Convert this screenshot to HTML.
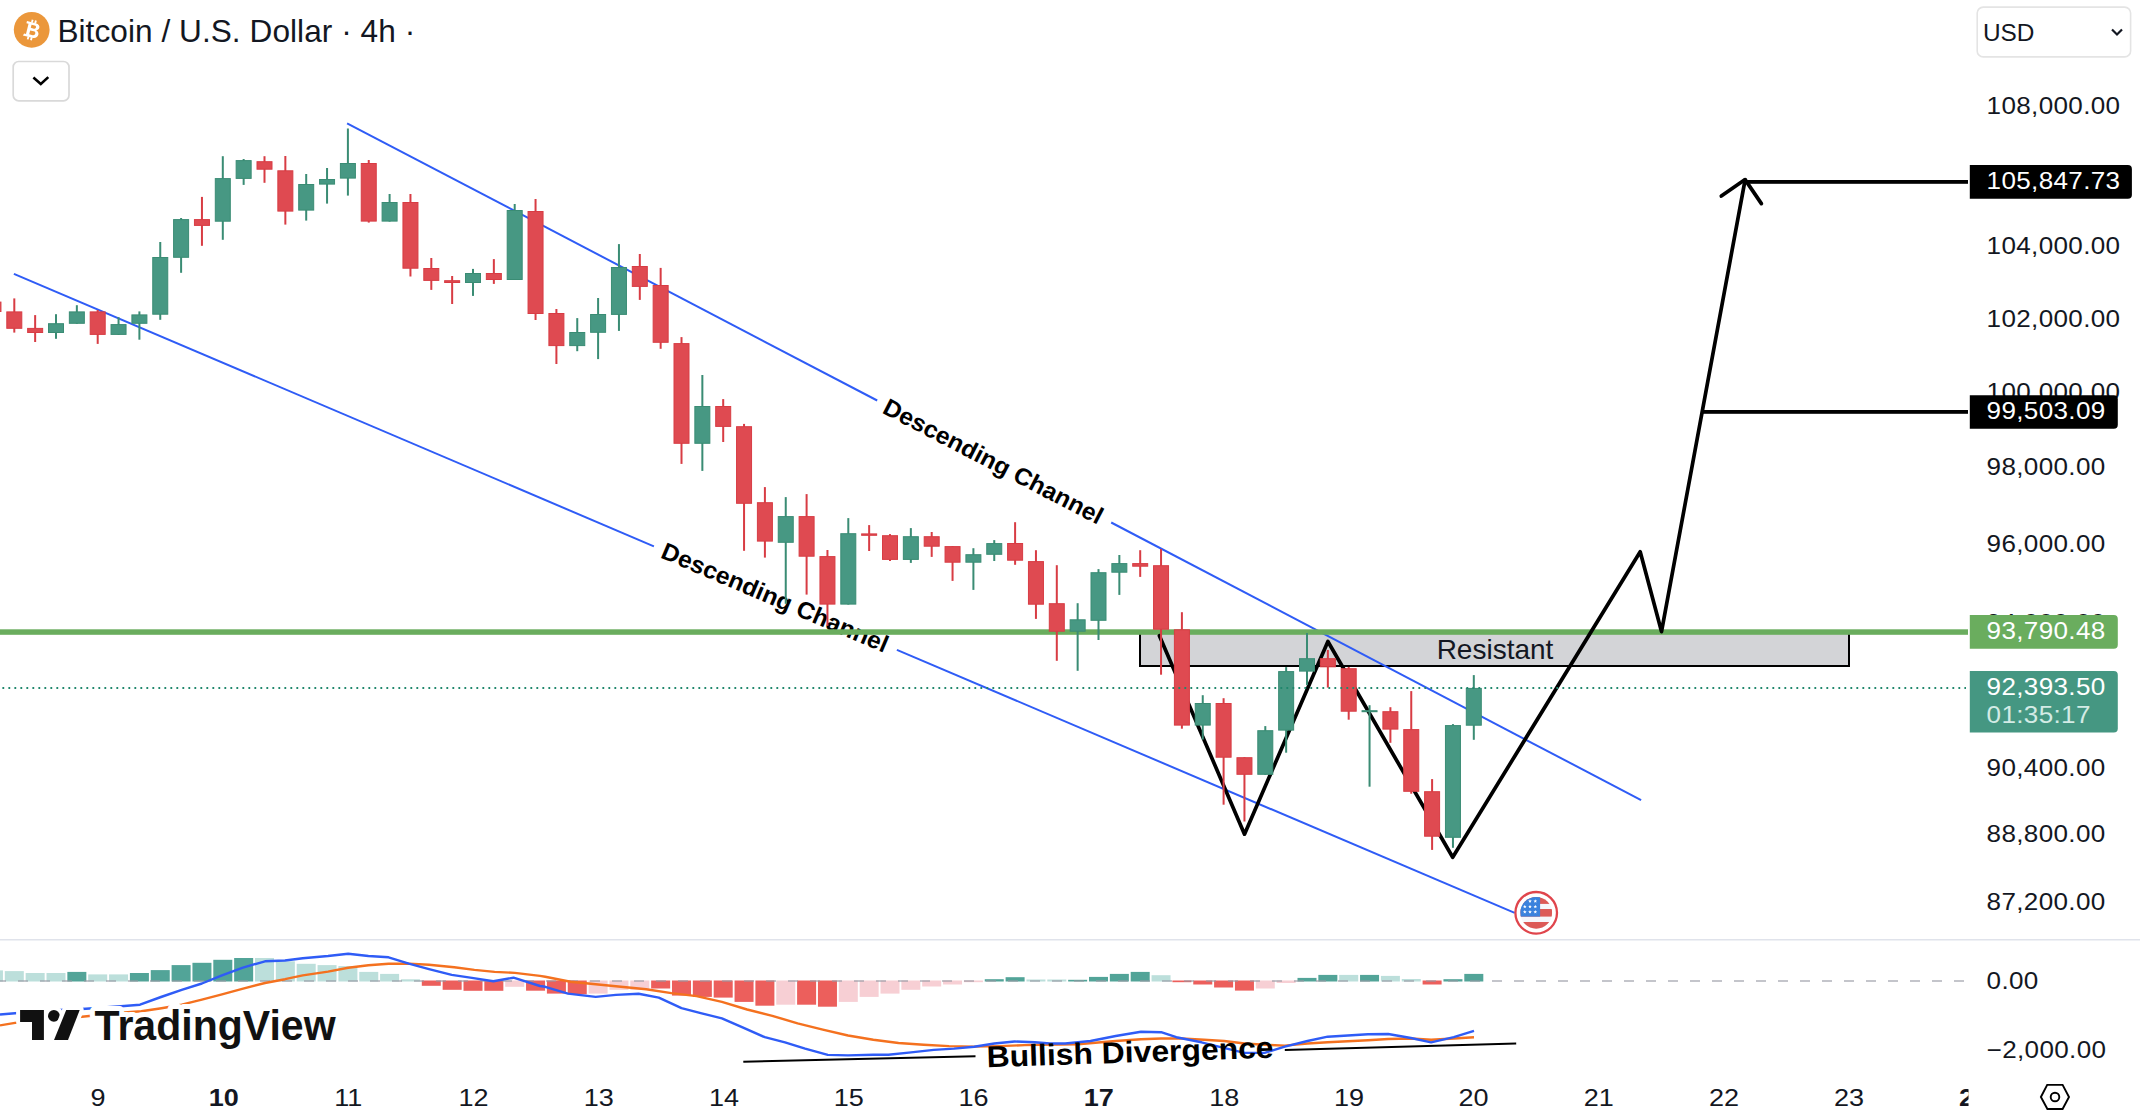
<!DOCTYPE html>
<html><head><meta charset="utf-8"><title>Bitcoin / U.S. Dollar 4h chart</title>
<style>
html,body{margin:0;padding:0;background:#fff;}
body{width:2140px;height:1118px;overflow:hidden;position:relative;}
svg{position:absolute;left:0;top:0;display:block;}
</style></head><body>
<svg width="2140" height="1118" viewBox="0 0 2140 1118">
<rect width="2140" height="1118" fill="#fff"/>
<rect x="1140" y="632" width="709" height="34" fill="#d3d4d7" stroke="#000" stroke-width="2"/>
<line x1="347.1" y1="123.3" x2="877.2" y2="400.5" stroke="#2f5cf6" stroke-width="2"/>
<line x1="1111.2" y1="522.5" x2="1641.1" y2="800.1" stroke="#2f5cf6" stroke-width="2"/>
<line x1="13.9" y1="273.8" x2="653.9" y2="546.3" stroke="#2f5cf6" stroke-width="2"/>
<line x1="896.9" y1="649.8" x2="1514.7" y2="912.9" stroke="#2f5cf6" stroke-width="2"/>
<text transform="translate(881.2 412.6) rotate(27.4)" style="font:bold 24px 'Liberation Sans', Arial, sans-serif" fill="#000" textLength="244" lengthAdjust="spacingAndGlyphs">Descending Channel</text>
<text transform="translate(659.5 557.3) rotate(23.06)" style="font:bold 24px 'Liberation Sans', Arial, sans-serif" fill="#000" textLength="244" lengthAdjust="spacingAndGlyphs">Descending Channel</text>
<text x="1495" y="659.2" text-anchor="middle" style="font:28px 'Liberation Sans', Arial, sans-serif" fill="#131722">Resistant</text>
<rect x="0" y="629.3" width="1968" height="5.5" fill="#6aad5e"/>
<polyline points="1159.4,635.7 1244.5,834.2 1327.9,641.5 1452.7,857.3 1640.2,551.8 1661.5,631.6 1745.1,179.9" fill="none" stroke="#000" stroke-width="3.7" stroke-linejoin="round" stroke-linecap="round"/>
<polyline points="1721.3,196.1 1745.1,179.6 1761.4,203.6" fill="none" stroke="#000" stroke-width="3.7" stroke-linejoin="round" stroke-linecap="round"/>
<rect x="1745" y="180" width="223" height="3.8" fill="#000"/>
<rect x="1702" y="410" width="266" height="3.8" fill="#000"/>
<rect x="-7.55" y="301.6" width="2" height="10.4" fill="#d83c44"/>
<rect x="-14.05" y="302.1" width="15" height="9.4" fill="#df4a51" stroke="#d83c44" stroke-width="1"/>
<rect x="13.3" y="298.4" width="2" height="34.2" fill="#d83c44"/>
<rect x="6.8" y="311.9" width="15" height="16.4" fill="#df4a51" stroke="#d83c44" stroke-width="1"/>
<rect x="34.15" y="315.1" width="2" height="26.9" fill="#d83c44"/>
<rect x="27.65" y="328.4" width="15" height="4.1" fill="#df4a51" stroke="#d83c44" stroke-width="1"/>
<rect x="55" y="314.2" width="2" height="24.6" fill="#3a8c74"/>
<rect x="48.5" y="323.7" width="15" height="8.8" fill="#479883" stroke="#3a8c74" stroke-width="1"/>
<rect x="75.85" y="305.2" width="2" height="18.6" fill="#3a8c74"/>
<rect x="69.35" y="311.9" width="15" height="11.4" fill="#479883" stroke="#3a8c74" stroke-width="1"/>
<rect x="96.7" y="310" width="2" height="33.9" fill="#d83c44"/>
<rect x="90.2" y="311.9" width="15" height="22.5" fill="#df4a51" stroke="#d83c44" stroke-width="1"/>
<rect x="117.55" y="317.2" width="2" height="17.7" fill="#3a8c74"/>
<rect x="111.05" y="324.6" width="15" height="9.8" fill="#479883" stroke="#3a8c74" stroke-width="1"/>
<rect x="138.4" y="311.4" width="2" height="28.3" fill="#3a8c74"/>
<rect x="131.9" y="314.9" width="15" height="8.4" fill="#479883" stroke="#3a8c74" stroke-width="1"/>
<rect x="159.25" y="242" width="2" height="77.8" fill="#3a8c74"/>
<rect x="152.75" y="257.5" width="15" height="56.7" fill="#479883" stroke="#3a8c74" stroke-width="1"/>
<rect x="180.1" y="218" width="2" height="54.8" fill="#3a8c74"/>
<rect x="173.6" y="219.6" width="15" height="37.7" fill="#479883" stroke="#3a8c74" stroke-width="1"/>
<rect x="200.95" y="196.9" width="2" height="48.9" fill="#d83c44"/>
<rect x="194.45" y="219.6" width="15" height="5.8" fill="#df4a51" stroke="#d83c44" stroke-width="1"/>
<rect x="221.8" y="156.2" width="2" height="83.6" fill="#3a8c74"/>
<rect x="215.3" y="178.6" width="15" height="42.6" fill="#479883" stroke="#3a8c74" stroke-width="1"/>
<rect x="242.65" y="159" width="2" height="25.9" fill="#3a8c74"/>
<rect x="236.15" y="160.6" width="15" height="17.8" fill="#479883" stroke="#3a8c74" stroke-width="1"/>
<rect x="263.5" y="156.2" width="2" height="26.6" fill="#d83c44"/>
<rect x="257" y="161.7" width="15" height="7.5" fill="#df4a51" stroke="#d83c44" stroke-width="1"/>
<rect x="284.35" y="156" width="2" height="68.6" fill="#d83c44"/>
<rect x="277.85" y="170.8" width="15" height="40.3" fill="#df4a51" stroke="#d83c44" stroke-width="1"/>
<rect x="305.2" y="174" width="2" height="46.6" fill="#3a8c74"/>
<rect x="298.7" y="184.5" width="15" height="25.6" fill="#479883" stroke="#3a8c74" stroke-width="1"/>
<rect x="326.05" y="168" width="2" height="35.6" fill="#3a8c74"/>
<rect x="319.55" y="179.5" width="15" height="4.6" fill="#479883" stroke="#3a8c74" stroke-width="1"/>
<rect x="346.9" y="128.5" width="2" height="67.1" fill="#3a8c74"/>
<rect x="340.4" y="163.5" width="15" height="14.6" fill="#479883" stroke="#3a8c74" stroke-width="1"/>
<rect x="367.75" y="160" width="2" height="62.6" fill="#d83c44"/>
<rect x="361.25" y="163.5" width="15" height="57.6" fill="#df4a51" stroke="#d83c44" stroke-width="1"/>
<rect x="388.6" y="194" width="2" height="27.6" fill="#3a8c74"/>
<rect x="382.1" y="202.5" width="15" height="18.6" fill="#479883" stroke="#3a8c74" stroke-width="1"/>
<rect x="409.45" y="194" width="2" height="82.5" fill="#d83c44"/>
<rect x="402.95" y="202.5" width="15" height="65.7" fill="#df4a51" stroke="#d83c44" stroke-width="1"/>
<rect x="430.3" y="258" width="2" height="31.9" fill="#d83c44"/>
<rect x="423.8" y="268.5" width="15" height="11.9" fill="#df4a51" stroke="#d83c44" stroke-width="1"/>
<rect x="451.15" y="276" width="2" height="28" fill="#d83c44"/>
<rect x="444.65" y="280.7" width="15" height="1.8" fill="#df4a51" stroke="#d83c44" stroke-width="1"/>
<rect x="472" y="268.9" width="2" height="27" fill="#3a8c74"/>
<rect x="465.5" y="273.5" width="15" height="9" fill="#479883" stroke="#3a8c74" stroke-width="1"/>
<rect x="492.85" y="259.1" width="2" height="24.8" fill="#d83c44"/>
<rect x="486.35" y="273.5" width="15" height="6" fill="#df4a51" stroke="#d83c44" stroke-width="1"/>
<rect x="513.7" y="204" width="2" height="76" fill="#3a8c74"/>
<rect x="507.2" y="210.5" width="15" height="69" fill="#479883" stroke="#3a8c74" stroke-width="1"/>
<rect x="534.55" y="199" width="2" height="121" fill="#d83c44"/>
<rect x="528.05" y="211.5" width="15" height="102" fill="#df4a51" stroke="#d83c44" stroke-width="1"/>
<rect x="555.4" y="309" width="2" height="55" fill="#d83c44"/>
<rect x="548.9" y="313.5" width="15" height="32.1" fill="#df4a51" stroke="#d83c44" stroke-width="1"/>
<rect x="576.25" y="318.1" width="2" height="33.1" fill="#3a8c74"/>
<rect x="569.75" y="332.5" width="15" height="13.1" fill="#479883" stroke="#3a8c74" stroke-width="1"/>
<rect x="597.1" y="298" width="2" height="61.1" fill="#3a8c74"/>
<rect x="590.6" y="314.5" width="15" height="17.8" fill="#479883" stroke="#3a8c74" stroke-width="1"/>
<rect x="617.95" y="244.1" width="2" height="86.8" fill="#3a8c74"/>
<rect x="611.45" y="267.5" width="15" height="46.9" fill="#479883" stroke="#3a8c74" stroke-width="1"/>
<rect x="638.8" y="254" width="2" height="45.9" fill="#d83c44"/>
<rect x="632.3" y="266.5" width="15" height="19.9" fill="#df4a51" stroke="#d83c44" stroke-width="1"/>
<rect x="659.65" y="267.9" width="2" height="80.9" fill="#d83c44"/>
<rect x="653.15" y="285.5" width="15" height="56.8" fill="#df4a51" stroke="#d83c44" stroke-width="1"/>
<rect x="680.5" y="337.1" width="2" height="126.8" fill="#d83c44"/>
<rect x="674" y="343.6" width="15" height="99.7" fill="#df4a51" stroke="#d83c44" stroke-width="1"/>
<rect x="701.35" y="375" width="2" height="95.9" fill="#3a8c74"/>
<rect x="694.85" y="406.5" width="15" height="36.8" fill="#479883" stroke="#3a8c74" stroke-width="1"/>
<rect x="722.2" y="399.1" width="2" height="42.9" fill="#d83c44"/>
<rect x="715.7" y="406.5" width="15" height="19.9" fill="#df4a51" stroke="#d83c44" stroke-width="1"/>
<rect x="743.05" y="423.9" width="2" height="126.9" fill="#d83c44"/>
<rect x="736.55" y="426.7" width="15" height="76.6" fill="#df4a51" stroke="#d83c44" stroke-width="1"/>
<rect x="763.9" y="487.1" width="2" height="70.5" fill="#d83c44"/>
<rect x="757.4" y="502.7" width="15" height="38.4" fill="#df4a51" stroke="#d83c44" stroke-width="1"/>
<rect x="784.75" y="497.1" width="2" height="106.7" fill="#3a8c74"/>
<rect x="778.25" y="516.6" width="15" height="25.7" fill="#479883" stroke="#3a8c74" stroke-width="1"/>
<rect x="805.6" y="494.1" width="2" height="100.5" fill="#d83c44"/>
<rect x="799.1" y="516.6" width="15" height="39.6" fill="#df4a51" stroke="#d83c44" stroke-width="1"/>
<rect x="826.45" y="550" width="2" height="75.8" fill="#d83c44"/>
<rect x="819.95" y="556.6" width="15" height="47.5" fill="#df4a51" stroke="#d83c44" stroke-width="1"/>
<rect x="847.3" y="518.1" width="2" height="86.5" fill="#3a8c74"/>
<rect x="840.8" y="533.7" width="15" height="70.4" fill="#479883" stroke="#3a8c74" stroke-width="1"/>
<rect x="868.15" y="525.1" width="2" height="25.9" fill="#d83c44"/>
<rect x="861.65" y="533.9" width="15" height="1.4" fill="#df4a51" stroke="#d83c44" stroke-width="1"/>
<rect x="889" y="534.1" width="2" height="26.9" fill="#d83c44"/>
<rect x="882.5" y="535.7" width="15" height="23.7" fill="#df4a51" stroke="#d83c44" stroke-width="1"/>
<rect x="909.85" y="528.1" width="2" height="34.8" fill="#3a8c74"/>
<rect x="903.35" y="536.7" width="15" height="22.7" fill="#479883" stroke="#3a8c74" stroke-width="1"/>
<rect x="930.7" y="532" width="2" height="24.9" fill="#d83c44"/>
<rect x="924.2" y="536.7" width="15" height="9.5" fill="#df4a51" stroke="#d83c44" stroke-width="1"/>
<rect x="951.55" y="546.1" width="2" height="34.8" fill="#d83c44"/>
<rect x="945.05" y="546.6" width="15" height="15.6" fill="#df4a51" stroke="#d83c44" stroke-width="1"/>
<rect x="972.4" y="548.2" width="2" height="41.7" fill="#3a8c74"/>
<rect x="965.9" y="554.7" width="15" height="7.5" fill="#479883" stroke="#3a8c74" stroke-width="1"/>
<rect x="993.25" y="540.1" width="2" height="20.9" fill="#3a8c74"/>
<rect x="986.75" y="543.6" width="15" height="10.7" fill="#479883" stroke="#3a8c74" stroke-width="1"/>
<rect x="1014.1" y="522.2" width="2" height="42.6" fill="#d83c44"/>
<rect x="1007.6" y="543.5" width="15" height="16.7" fill="#df4a51" stroke="#d83c44" stroke-width="1"/>
<rect x="1034.95" y="550.2" width="2" height="68.7" fill="#d83c44"/>
<rect x="1028.45" y="561.6" width="15" height="42.6" fill="#df4a51" stroke="#d83c44" stroke-width="1"/>
<rect x="1055.8" y="565.2" width="2" height="95.6" fill="#d83c44"/>
<rect x="1049.3" y="603.7" width="15" height="27.5" fill="#df4a51" stroke="#d83c44" stroke-width="1"/>
<rect x="1076.65" y="603.2" width="2" height="67.6" fill="#3a8c74"/>
<rect x="1070.15" y="619.8" width="15" height="11.4" fill="#479883" stroke="#3a8c74" stroke-width="1"/>
<rect x="1097.5" y="569.1" width="2" height="70.9" fill="#3a8c74"/>
<rect x="1091" y="572.7" width="15" height="47.6" fill="#479883" stroke="#3a8c74" stroke-width="1"/>
<rect x="1118.35" y="555" width="2" height="39.9" fill="#3a8c74"/>
<rect x="1111.85" y="563.6" width="15" height="8.6" fill="#479883" stroke="#3a8c74" stroke-width="1"/>
<rect x="1139.2" y="550.2" width="2" height="26.7" fill="#d83c44"/>
<rect x="1132.7" y="563.6" width="15" height="2.6" fill="#df4a51" stroke="#d83c44" stroke-width="1"/>
<rect x="1160.05" y="549" width="2" height="125.7" fill="#d83c44"/>
<rect x="1153.55" y="565.7" width="15" height="63.5" fill="#df4a51" stroke="#d83c44" stroke-width="1"/>
<rect x="1180.9" y="612.2" width="2" height="116.5" fill="#d83c44"/>
<rect x="1174.4" y="629.8" width="15" height="95.3" fill="#df4a51" stroke="#d83c44" stroke-width="1"/>
<rect x="1201.75" y="695.2" width="2" height="44.4" fill="#3a8c74"/>
<rect x="1195.25" y="703.5" width="15" height="21.6" fill="#479883" stroke="#3a8c74" stroke-width="1"/>
<rect x="1222.6" y="698.2" width="2" height="106.5" fill="#d83c44"/>
<rect x="1216.1" y="703.5" width="15" height="53.7" fill="#df4a51" stroke="#d83c44" stroke-width="1"/>
<rect x="1243.45" y="757.2" width="2" height="64.3" fill="#d83c44"/>
<rect x="1236.95" y="757.7" width="15" height="16.6" fill="#df4a51" stroke="#d83c44" stroke-width="1"/>
<rect x="1264.3" y="726.1" width="2" height="48.7" fill="#3a8c74"/>
<rect x="1257.8" y="730.7" width="15" height="43.6" fill="#479883" stroke="#3a8c74" stroke-width="1"/>
<rect x="1285.15" y="667.1" width="2" height="85.6" fill="#3a8c74"/>
<rect x="1278.65" y="671.6" width="15" height="58.5" fill="#479883" stroke="#3a8c74" stroke-width="1"/>
<rect x="1306" y="633" width="2" height="52.1" fill="#3a8c74"/>
<rect x="1299.5" y="658.7" width="15" height="12.4" fill="#479883" stroke="#3a8c74" stroke-width="1"/>
<rect x="1326.85" y="650" width="2" height="37.6" fill="#d83c44"/>
<rect x="1320.35" y="658.7" width="15" height="8.1" fill="#df4a51" stroke="#d83c44" stroke-width="1"/>
<rect x="1347.7" y="667" width="2" height="52.7" fill="#d83c44"/>
<rect x="1341.2" y="668.7" width="15" height="42.5" fill="#df4a51" stroke="#d83c44" stroke-width="1"/>
<rect x="1368.55" y="705.2" width="2" height="81.5" fill="#3a8c74"/>
<rect x="1362.05" y="710.7" width="15" height="1" fill="#479883" stroke="#3a8c74" stroke-width="1"/>
<rect x="1389.4" y="707.2" width="2" height="35.6" fill="#d83c44"/>
<rect x="1382.9" y="711.7" width="15" height="17.4" fill="#df4a51" stroke="#d83c44" stroke-width="1"/>
<rect x="1410.25" y="691.1" width="2" height="102.6" fill="#d83c44"/>
<rect x="1403.75" y="729.6" width="15" height="61.7" fill="#df4a51" stroke="#d83c44" stroke-width="1"/>
<rect x="1431.1" y="779.1" width="2" height="70.8" fill="#d83c44"/>
<rect x="1424.6" y="791.7" width="15" height="44.5" fill="#df4a51" stroke="#d83c44" stroke-width="1"/>
<rect x="1451.95" y="724.1" width="2" height="123.7" fill="#3a8c74"/>
<rect x="1445.45" y="725.6" width="15" height="111.7" fill="#479883" stroke="#3a8c74" stroke-width="1"/>
<rect x="1472.8" y="675.1" width="2" height="64.7" fill="#3a8c74"/>
<rect x="1466.3" y="688.4" width="15" height="36.8" fill="#479883" stroke="#3a8c74" stroke-width="1"/>
<line x1="0" y1="688" x2="1966" y2="688" stroke="#1f876c" stroke-width="1.8" stroke-dasharray="1.8 4.2" stroke-dashoffset="3.6"/>
<g transform="translate(1536.2 912.8)">
<circle r="20.8" fill="#fff" stroke="#e0454c" stroke-width="2.3"/>
<clipPath id="fc"><circle r="15.9"/></clipPath>
<g clip-path="url(#fc)">
<rect x="-16" y="-16" width="32" height="32" fill="#f5f6fa"/>
<rect x="-16" y="-16" width="32" height="7.1" fill="#dc5a57"/>
<rect x="-16" y="-3.8" width="32" height="7.6" fill="#dc5a57"/>
<rect x="-16" y="9.2" width="32" height="7" fill="#dc5a57"/>
<rect x="-16" y="-16" width="19.9" height="19.8" fill="#3a82dd"/>
<g fill="#fff"><polygon points="-6.20,-13.50 -5.70,-12.29 -4.39,-12.19 -5.39,-11.34 -5.08,-10.06 -6.20,-10.74 -7.32,-10.06 -7.01,-11.34 -8.01,-12.19 -6.70,-12.29"/><polygon points="-0.90,-13.50 -0.40,-12.29 0.91,-12.19 -0.09,-11.34 0.22,-10.06 -0.90,-10.74 -2.02,-10.06 -1.71,-11.34 -2.71,-12.19 -1.40,-12.29"/><polygon points="-11.40,-8.10 -10.90,-6.89 -9.59,-6.79 -10.59,-5.94 -10.28,-4.66 -11.40,-5.35 -12.52,-4.66 -12.21,-5.94 -13.21,-6.79 -11.90,-6.89"/><polygon points="-6.20,-8.10 -5.70,-6.89 -4.39,-6.79 -5.39,-5.94 -5.08,-4.66 -6.20,-5.35 -7.32,-4.66 -7.01,-5.94 -8.01,-6.79 -6.70,-6.89"/><polygon points="-0.90,-8.10 -0.40,-6.89 0.91,-6.79 -0.09,-5.94 0.22,-4.66 -0.90,-5.35 -2.02,-4.66 -1.71,-5.94 -2.71,-6.79 -1.40,-6.89"/><polygon points="-11.40,-2.80 -10.90,-1.59 -9.59,-1.49 -10.59,-0.64 -10.28,0.64 -11.40,-0.05 -12.52,0.64 -12.21,-0.64 -13.21,-1.49 -11.90,-1.59"/><polygon points="-6.20,-2.80 -5.70,-1.59 -4.39,-1.49 -5.39,-0.64 -5.08,0.64 -6.20,-0.05 -7.32,0.64 -7.01,-0.64 -8.01,-1.49 -6.70,-1.59"/><polygon points="-0.90,-2.80 -0.40,-1.59 0.91,-1.49 -0.09,-0.64 0.22,0.64 -0.90,-0.05 -2.02,0.64 -1.71,-0.64 -2.71,-1.49 -1.40,-1.59"/></g>
</g>
</g>
<rect x="-16.05" y="970.4" width="19" height="11.1" fill="#bcdfdb"/>
<rect x="4.8" y="971.1" width="19" height="10.4" fill="#bcdfdb"/>
<rect x="25.65" y="973" width="19" height="8.5" fill="#bcdfdb"/>
<rect x="46.5" y="973" width="19" height="8.5" fill="#bcdfdb"/>
<rect x="67.35" y="971.9" width="19" height="9.6" fill="#52a498"/>
<rect x="88.2" y="974.4" width="19" height="7.1" fill="#bcdfdb"/>
<rect x="109.05" y="974.4" width="19" height="7.1" fill="#bcdfdb"/>
<rect x="129.9" y="973" width="19" height="8.5" fill="#52a498"/>
<rect x="150.75" y="970.1" width="19" height="11.4" fill="#52a498"/>
<rect x="171.6" y="965.1" width="19" height="16.4" fill="#52a498"/>
<rect x="192.45" y="962.8" width="19" height="18.7" fill="#52a498"/>
<rect x="213.3" y="959.8" width="19" height="21.7" fill="#52a498"/>
<rect x="234.15" y="958" width="19" height="23.5" fill="#52a498"/>
<rect x="255" y="958" width="19" height="23.5" fill="#bcdfdb"/>
<rect x="275.85" y="961.3" width="19" height="20.2" fill="#bcdfdb"/>
<rect x="296.7" y="963.8" width="19" height="17.7" fill="#bcdfdb"/>
<rect x="317.55" y="965.1" width="19" height="16.4" fill="#bcdfdb"/>
<rect x="338.4" y="966.1" width="19" height="15.4" fill="#bcdfdb"/>
<rect x="359.25" y="971.9" width="19" height="9.6" fill="#bcdfdb"/>
<rect x="380.1" y="973.9" width="19" height="7.6" fill="#bcdfdb"/>
<rect x="400.95" y="979.3" width="19" height="2.2" fill="#bcdfdb"/>
<rect x="421.8" y="980.5" width="19" height="5.3" fill="#ec5f5c"/>
<rect x="442.65" y="980.5" width="19" height="9.3" fill="#ec5f5c"/>
<rect x="463.5" y="980.5" width="19" height="10.3" fill="#ec5f5c"/>
<rect x="484.35" y="980.5" width="19" height="10.3" fill="#ec5f5c"/>
<rect x="505.2" y="980.5" width="19" height="6.3" fill="#f7cfd4"/>
<rect x="526.05" y="980.5" width="19" height="10.2" fill="#ec5f5c"/>
<rect x="546.9" y="980.5" width="19" height="13.1" fill="#ec5f5c"/>
<rect x="567.75" y="980.5" width="19" height="13.8" fill="#ec5f5c"/>
<rect x="588.6" y="980.5" width="19" height="13.1" fill="#f7cfd4"/>
<rect x="609.45" y="980.5" width="19" height="9.3" fill="#f7cfd4"/>
<rect x="630.3" y="980.5" width="19" height="9.3" fill="#f7cfd4"/>
<rect x="651.15" y="980.5" width="19" height="8" fill="#ec5f5c"/>
<rect x="672" y="980.5" width="19" height="15.1" fill="#ec5f5c"/>
<rect x="692.85" y="980.5" width="19" height="16.4" fill="#ec5f5c"/>
<rect x="713.7" y="980.5" width="19" height="17.1" fill="#ec5f5c"/>
<rect x="734.55" y="980.5" width="19" height="21.4" fill="#ec5f5c"/>
<rect x="755.4" y="980.5" width="19" height="25.2" fill="#ec5f5c"/>
<rect x="776.25" y="980.5" width="19" height="24.2" fill="#f7cfd4"/>
<rect x="797.1" y="980.5" width="19" height="24.2" fill="#ec5f5c"/>
<rect x="817.95" y="980.5" width="19" height="26.2" fill="#ec5f5c"/>
<rect x="838.8" y="980.5" width="19" height="21.4" fill="#f7cfd4"/>
<rect x="859.65" y="980.5" width="19" height="16.4" fill="#f7cfd4"/>
<rect x="880.5" y="980.5" width="19" height="13.1" fill="#f7cfd4"/>
<rect x="901.35" y="980.5" width="19" height="9.3" fill="#f7cfd4"/>
<rect x="922.2" y="980.5" width="19" height="6" fill="#f7cfd4"/>
<rect x="943.05" y="980.5" width="19" height="4" fill="#f7cfd4"/>
<rect x="963.9" y="980.5" width="19" height="1.7" fill="#f7cfd4"/>
<rect x="984.75" y="979.2" width="19" height="2.3" fill="#52a498"/>
<rect x="1005.6" y="977.2" width="19" height="4.3" fill="#52a498"/>
<rect x="1026.45" y="979.5" width="19" height="2" fill="#bcdfdb"/>
<rect x="1047.3" y="979.5" width="19" height="2" fill="#bcdfdb"/>
<rect x="1068.15" y="979.8" width="19" height="1.7" fill="#52a498"/>
<rect x="1089" y="976.9" width="19" height="4.6" fill="#52a498"/>
<rect x="1109.85" y="973.9" width="19" height="7.6" fill="#52a498"/>
<rect x="1130.7" y="971.9" width="19" height="9.6" fill="#52a498"/>
<rect x="1151.55" y="975.2" width="19" height="6.3" fill="#bcdfdb"/>
<rect x="1172.4" y="980.5" width="19" height="1.7" fill="#ec5f5c"/>
<rect x="1193.25" y="980.5" width="19" height="4" fill="#ec5f5c"/>
<rect x="1214.1" y="980.5" width="19" height="7" fill="#ec5f5c"/>
<rect x="1234.95" y="980.5" width="19" height="10.1" fill="#ec5f5c"/>
<rect x="1255.8" y="980.5" width="19" height="8" fill="#f7cfd4"/>
<rect x="1276.65" y="980.5" width="19" height="2.5" fill="#f7cfd4"/>
<rect x="1297.5" y="977.9" width="19" height="3.6" fill="#52a498"/>
<rect x="1318.35" y="974.9" width="19" height="6.6" fill="#52a498"/>
<rect x="1339.2" y="974.9" width="19" height="6.6" fill="#bcdfdb"/>
<rect x="1360.05" y="974.9" width="19" height="6.6" fill="#52a498"/>
<rect x="1380.9" y="975.9" width="19" height="5.6" fill="#bcdfdb"/>
<rect x="1401.75" y="979" width="19" height="2.5" fill="#bcdfdb"/>
<rect x="1422.6" y="980.5" width="19" height="4" fill="#ec5f5c"/>
<rect x="1443.45" y="979.2" width="19" height="2.3" fill="#52a498"/>
<rect x="1464.3" y="973.9" width="19" height="7.6" fill="#52a498"/>
<line x1="0" y1="981" x2="1965" y2="981" stroke="#9598a1" stroke-opacity="0.75" stroke-width="1.6" stroke-dasharray="10 12" stroke-dashoffset="4"/>
<polyline points="0,1025.4 15,1022.9 60,1019 121,1012.8 141.3,1011.3 161.5,1008.2 181.7,1004.7 201.9,999.6 222,994.3 242.2,988.8 265,983 285,979.2 302.8,975.4 328,971.6 348.2,967.8 368.4,965.3 388.6,963.8 408.8,963.6 429,964.8 454.2,967.3 474.4,969.9 494.6,971.9 514.8,972.9 540,975.9 545.2,976.7 570.5,981.7 595.7,984.3 620.9,986.8 646.2,989.3 671.4,993.1 696.6,996.1 721.9,1001.9 747.1,1009.5 772.3,1015.8 797.6,1023.4 822.8,1029.7 848,1035.5 873.3,1039.8 898.5,1043 923.7,1044.8 949,1046.1 974.2,1046.6 999.4,1046.1 1024.7,1045.1 1040,1044.8 1077.9,1044.3 1115.7,1041 1141,1039.3 1161.1,1038.5 1181.3,1038.5 1204,1039.8 1224.2,1041 1244.4,1043.5 1264.6,1044.8 1284.8,1045.6 1307.5,1043.5 1327.7,1042.3 1368,1040.3 1388.2,1039 1410.9,1038.5 1431.1,1039.8 1453.8,1038.5 1474,1037.2" fill="none" stroke="#f4711f" stroke-width="2.4" stroke-linejoin="round"/>
<polyline points="0,1014.5 15,1013.3 60,1010 86,1008.7 121,1006.2 140,1004.7 161,997 181.7,989.8 201.9,983.5 222,975.4 242.2,967.8 265,961.3 285,960.5 302.8,958.3 328,956 348.2,953.7 368.4,956 388.6,957.3 408.8,963.6 429,969.1 451.7,974.9 471.9,977.9 493.3,981.2 513.5,977.7 540,986 545.2,986.8 568,993.6 595.7,996.9 615.9,994.9 638.6,993.8 658.8,997.6 681.5,1008.2 701.7,1013.3 721.9,1018.3 742,1027.1 764.8,1037.2 785,1042.3 805.1,1048.6 827.8,1054.9 848,1055.4 873.3,1054.7 888.4,1054.7 911.1,1052.4 933.8,1049.9 954,1048.6 974.2,1046.8 994.4,1043.5 1014.6,1041.5 1034.8,1042.3 1049.9,1043.5 1065.2,1043.5 1090.5,1041 1115.7,1036 1141,1031.7 1161.1,1032.2 1176.3,1037.2 1201.5,1042.3 1221.7,1047.3 1244.4,1052.9 1264.6,1052.9 1284.8,1046.6 1307.5,1041 1327.7,1036.7 1368,1034.2 1388.2,1034 1410.9,1038 1431.1,1042.3 1453.8,1037.2 1474,1030.9" fill="none" stroke="#2f5cf6" stroke-width="2.4" stroke-linejoin="round"/>
<line x1="743.3" y1="1061.7" x2="975.5" y2="1056.2" stroke="#000" stroke-width="2"/>
<line x1="1284.8" y1="1049.9" x2="1516.2" y2="1043.5" stroke="#000" stroke-width="2"/>
<text transform="translate(987 1067.2) rotate(-1.9)" style="font:bold 30px 'Liberation Sans', Arial, sans-serif" fill="#000" textLength="287" lengthAdjust="spacingAndGlyphs">Bullish Divergence</text>
<rect x="0" y="939" width="2140" height="1.5" fill="#e0e3eb"/>
<text transform="translate(1986.6 114) scale(1.085 1)" style="font:24px 'Liberation Sans', Arial, sans-serif" letter-spacing="0.33" fill="#131722">108,000.00</text>
<text transform="translate(1986.6 253.7) scale(1.085 1)" style="font:24px 'Liberation Sans', Arial, sans-serif" letter-spacing="0.33" fill="#131722">104,000.00</text>
<text transform="translate(1986.6 326.6) scale(1.085 1)" style="font:24px 'Liberation Sans', Arial, sans-serif" letter-spacing="0.33" fill="#131722">102,000.00</text>
<text transform="translate(1986.6 400.1) scale(1.085 1)" style="font:24px 'Liberation Sans', Arial, sans-serif" letter-spacing="0.33" fill="#131722">100,000.00</text>
<text transform="translate(1986.6 475) scale(1.085 1)" style="font:24px 'Liberation Sans', Arial, sans-serif" letter-spacing="0.33" fill="#131722">98,000.00</text>
<text transform="translate(1986.6 552.3) scale(1.085 1)" style="font:24px 'Liberation Sans', Arial, sans-serif" letter-spacing="0.33" fill="#131722">96,000.00</text>
<text transform="translate(1986.6 630.6) scale(1.085 1)" style="font:24px 'Liberation Sans', Arial, sans-serif" letter-spacing="0.33" fill="#131722">94,000.00</text>
<text transform="translate(1986.6 775.9) scale(1.085 1)" style="font:24px 'Liberation Sans', Arial, sans-serif" letter-spacing="0.33" fill="#131722">90,400.00</text>
<text transform="translate(1986.6 842.4) scale(1.085 1)" style="font:24px 'Liberation Sans', Arial, sans-serif" letter-spacing="0.33" fill="#131722">88,800.00</text>
<text transform="translate(1986.6 910) scale(1.085 1)" style="font:24px 'Liberation Sans', Arial, sans-serif" letter-spacing="0.33" fill="#131722">87,200.00</text>
<path d="M1969.8,165 H2127.9 Q2131.9,165 2131.9,169 V194.8 Q2131.9,198.8 2127.9,198.8 H1969.8 Z" fill="#000"/>
<text transform="translate(1986.6 189.1) scale(1.085 1)" style="font:24px 'Liberation Sans', Arial, sans-serif" letter-spacing="0.33" fill="#fff">105,847.73</text>
<path d="M1969.8,395.3 H2113.8 Q2117.8,395.3 2117.8,399.3 V424.8 Q2117.8,428.8 2113.8,428.8 H1969.8 Z" fill="#000"/>
<text transform="translate(1986.6 418.9) scale(1.085 1)" style="font:24px 'Liberation Sans', Arial, sans-serif" letter-spacing="0.33" fill="#fff">99,503.09</text>
<path d="M1969.8,615 H2113.8 Q2117.8,615 2117.8,619 V644.8 Q2117.8,648.8 2113.8,648.8 H1969.8 Z" fill="#6aad5e"/>
<text transform="translate(1986.6 638.8) scale(1.085 1)" style="font:24px 'Liberation Sans', Arial, sans-serif" letter-spacing="0.33" fill="#fff">93,790.48</text>
<path d="M1969.8,671.1 H2113.8 Q2117.8,671.1 2117.8,675.1 V728.5 Q2117.8,732.5 2113.8,732.5 H1969.8 Z" fill="#459782"/>
<text transform="translate(1986.6 694.9) scale(1.085 1)" style="font:24px 'Liberation Sans', Arial, sans-serif" letter-spacing="0.33" fill="#fff">92,393.50</text>
<text transform="translate(1986.6 723) scale(1.085 1)" style="font:24px 'Liberation Sans', Arial, sans-serif" letter-spacing="0.33" fill="#d3ebe5">01:35:17</text>
<text transform="translate(1986.6 988.9) scale(1.085 1)" style="font:24px 'Liberation Sans', Arial, sans-serif" letter-spacing="0.33" fill="#131722">0.00</text>
<text transform="translate(1986.6 1058.2) scale(1.085 1)" style="font:24px 'Liberation Sans', Arial, sans-serif" letter-spacing="0.33" fill="#131722">−2,000.00</text>
<text transform="translate(97.9 1105.6) scale(1.15 1)" text-anchor="middle" style="font:23.5px 'Liberation Sans', Arial, sans-serif" fill="#131722">9</text>
<text transform="translate(223.8 1105.6) scale(1.15 1)" text-anchor="middle" style="font:bold 23.5px 'Liberation Sans', Arial, sans-serif" fill="#131722">10</text>
<text transform="translate(348.2 1105.6) scale(1.15 1)" text-anchor="middle" style="font:23.5px 'Liberation Sans', Arial, sans-serif" fill="#131722">11</text>
<text transform="translate(473.4 1105.6) scale(1.15 1)" text-anchor="middle" style="font:23.5px 'Liberation Sans', Arial, sans-serif" fill="#131722">12</text>
<text transform="translate(598.7 1105.6) scale(1.15 1)" text-anchor="middle" style="font:23.5px 'Liberation Sans', Arial, sans-serif" fill="#131722">13</text>
<text transform="translate(723.9 1105.6) scale(1.15 1)" text-anchor="middle" style="font:23.5px 'Liberation Sans', Arial, sans-serif" fill="#131722">14</text>
<text transform="translate(848.8 1105.6) scale(1.15 1)" text-anchor="middle" style="font:23.5px 'Liberation Sans', Arial, sans-serif" fill="#131722">15</text>
<text transform="translate(973.4 1105.6) scale(1.15 1)" text-anchor="middle" style="font:23.5px 'Liberation Sans', Arial, sans-serif" fill="#131722">16</text>
<text transform="translate(1098.8 1105.6) scale(1.15 1)" text-anchor="middle" style="font:bold 23.5px 'Liberation Sans', Arial, sans-serif" fill="#131722">17</text>
<text transform="translate(1224.2 1105.6) scale(1.15 1)" text-anchor="middle" style="font:23.5px 'Liberation Sans', Arial, sans-serif" fill="#131722">18</text>
<text transform="translate(1349.1 1105.6) scale(1.15 1)" text-anchor="middle" style="font:23.5px 'Liberation Sans', Arial, sans-serif" fill="#131722">19</text>
<text transform="translate(1473.5 1105.6) scale(1.15 1)" text-anchor="middle" style="font:23.5px 'Liberation Sans', Arial, sans-serif" fill="#131722">20</text>
<text transform="translate(1598.8 1105.6) scale(1.15 1)" text-anchor="middle" style="font:23.5px 'Liberation Sans', Arial, sans-serif" fill="#131722">21</text>
<text transform="translate(1724 1105.6) scale(1.15 1)" text-anchor="middle" style="font:23.5px 'Liberation Sans', Arial, sans-serif" fill="#131722">22</text>
<text transform="translate(1849 1105.6) scale(1.15 1)" text-anchor="middle" style="font:23.5px 'Liberation Sans', Arial, sans-serif" fill="#131722">23</text>
<svg x="1940" y="1080" width="28.5" height="35" overflow="hidden"><text transform="translate(34 25.6) scale(1.15 1)" text-anchor="middle" style="font:bold 23.5px 'Liberation Sans', Arial, sans-serif" fill="#131722">24</text></svg>
<g transform="translate(2055 1097)" fill="none" stroke="#000" stroke-width="1.9"><path d="M-14.1,0 L-7.8,-12.1 L7.6,-12.1 L14,0 L7.6,12 L-7.6,12 Z"/><circle r="4.3"/></g>
<circle cx="31.7" cy="29.8" r="17.9" fill="#eb973b"/>
<g transform="translate(32.0 30.0) rotate(14) scale(0.94)" fill="#fff"><path fill-rule="evenodd" d="M-7.5,-8 H2 C5.6,-8 7,-6.3 7,-4.2 C7,-2.5 6,-1.3 4.4,-0.7 C6.5,-0.2 7.8,1.3 7.8,3.4 C7.8,6.3 5.6,8 2,8 H-8 L-7.2,5.6 H-5.2 V-5.6 H-7.5 Z M-1.8,-5.2 H1.6 C2.9,-5.2 3.5,-4.5 3.5,-3.5 C3.5,-2.5 2.9,-1.9 1.6,-1.9 H-1.8 Z M-1.8,0.9 H2.1 C3.5,0.9 4.3,1.7 4.3,2.9 C4.3,4.2 3.5,5.2 2.1,5.2 H-1.8 Z"/><rect x="-3" y="-10.8" width="2" height="3.2"/><rect x="0.6" y="-10.8" width="2" height="3.2"/><rect x="-3" y="7.6" width="2" height="3.2"/><rect x="0.6" y="7.6" width="2" height="3.2"/></g>
<text x="57.4" y="42.1" style="font:31.6px 'Liberation Sans', Arial, sans-serif" fill="#131722" letter-spacing="0.05">Bitcoin / U.S. Dollar · 4h ·</text>
<rect x="13.2" y="61.5" width="55.8" height="39.3" rx="5.5" fill="#fff" stroke="#d9d9d9" stroke-width="1.7"/>
<polyline points="33.4,77.6 40.8,83.9 48.3,77.1" fill="none" stroke="#000" stroke-width="2.6"/>
<rect x="1977.2" y="7.1" width="153.4" height="49.8" rx="6" fill="#fff" stroke="#e4e4e4" stroke-width="1.6"/>
<text x="1982.9" y="40.7" style="font:24.4px 'Liberation Sans', Arial, sans-serif" fill="#131722">USD</text>
<polyline points="2112,29.5 2117,34.5 2122,29.5" fill="none" stroke="#131722" stroke-width="2.2"/>
<text x="94.6" y="1039.8" style="font:bold 41.6px 'Liberation Sans', Arial, sans-serif" fill="#111" stroke="#fff" stroke-width="10" paint-order="stroke" stroke-linejoin="round" textLength="241" lengthAdjust="spacingAndGlyphs">TradingView</text>
<g fill="#111" stroke="#fff" stroke-width="8" stroke-linejoin="round" paint-order="stroke"><path d="M20.1,1010.1 H43.9 V1039.9 H32 V1021.9 H20.1 Z"/><circle cx="53.9" cy="1015.9" r="5.9"/><path d="M66.2,1010.1 H79.7 L68,1039.9 H54 Z"/></g>
</svg>
</body></html>
